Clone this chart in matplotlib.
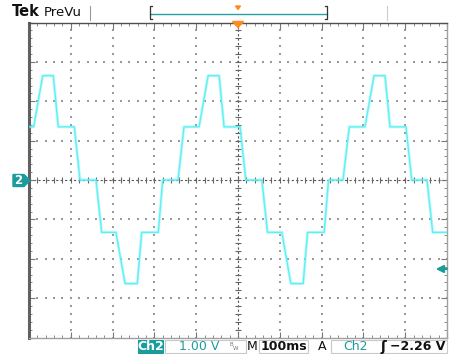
import numpy as np
import matplotlib
matplotlib.use("Agg")
import matplotlib.pyplot as plt
from matplotlib.patches import Rectangle, Polygon
from matplotlib.lines import Line2D

# ---- data: Ch2 trace breakpoints (time in ms relative to trigger, volts) ----
trace_t = [-497.6, -488.8, -467.2, -441.9, -430.0, -391.6, -378.0, -339.7, -326.1,
           -291.9, -270.3, -240.9, -230.4, -190.7, -180.1, -143.5, -129.2, -93.1,
           -71.5, -45.2, -33.3, 5.0, 18.7, 57.1, 70.6, 104.9, 126.4, 155.9, 166.4,
           206.1, 216.6, 251.2, 266.3, 303.8, 325.4, 351.7, 363.6, 401.9, 415.6,
           452.2, 465.8, 497.6]
trace_v = [1.35, 1.35, 2.65, 2.65, 1.35, 1.35, 0.0, 0.0, -1.33,
           -1.33, -2.63, -2.63, -1.33, -1.33, 0.0, 0.0, 1.35, 1.35,
           2.65, 2.65, 1.35, 1.35, 0.0, 0.0, -1.33, -1.33, -2.63, -2.63, -1.33,
           -1.33, 0.0, 0.0, 1.35, 1.35, 2.65, 2.65, 1.35, 1.35, 0.0,
           0.0, -1.33, -1.33]
volts_per_div = 1.00
ms_per_div = 100
trigger_level = -2.26
status_labels = ["Ch2", "1.00 V", "M", "100ms", "A", "Ch2", "\u22122.26 V"]

W, H = 449, 354
TEAL = "#1b9c9c"
TRACE = "#5ef0f5"

fig = plt.figure(figsize=(W / 100, H / 100), dpi=100)
fig.patch.set_facecolor("white")

def fx(x):
    return x / W

def fy(y):
    return 1 - y / H

L, R, T, B = 29, 447, 22.5, 337.5
ax = fig.add_axes([fx(L), fy(B), (R - L) / W, (B - T) / H])
ax.set_xlim(-5 * ms_per_div, 5 * ms_per_div)
ax.set_ylim(-4 * volts_per_div, 4 * volts_per_div)

# graticule dotted grid
minor_x = np.arange(-500, 501, 20)
minor_y = np.arange(-4, 4.01, 0.2)
for gx in range(-400, 401, 100):
    if gx == 0:
        continue
    ax.scatter(np.full(minor_y.size, gx), minor_y, s=0.6, marker="s",
               color="#9a9a9a", linewidths=0, zorder=1)
for gy in range(-3, 4):
    if gy == 0:
        continue
    ax.scatter(minor_x, np.full(minor_x.size, gy), s=0.6, marker="s",
               color="#9a9a9a", linewidths=0, zorder=1)
# center crosshair
ax.axhline(0, color="#555555", lw=0.8, ls=(0, (2, 2)), zorder=1)
ax.axvline(0, color="#555555", lw=0.8, ls=(0, (2, 2)), zorder=1)
ax.plot(minor_x, np.zeros(minor_x.size), ls="none", marker="|", ms=4.5,
        mew=0.8, color="#666666", zorder=1)
ax.plot(np.zeros(minor_y.size), minor_y, ls="none", marker="_", ms=4.5,
        mew=0.8, color="#666666", zorder=1)

# border ticks
ax.set_xticks(np.arange(-500, 501, 100))
ax.set_yticks(np.arange(-4, 5, 1))
ax.set_xticks(minor_x, minor=True)
ax.set_yticks(minor_y, minor=True)
ax.tick_params(which="both", direction="in", top=True, right=True,
               labelbottom=False, labelleft=False, color="#777777")
ax.tick_params(which="major", length=4, width=0.8)
ax.tick_params(which="minor", length=2.5, width=0.6)
for s in ax.spines.values():
    s.set_color("#707070")
    s.set_linewidth(1.0)
ax.spines["left"].set_linewidth(2.2)
ax.spines["left"].set_color("#606060")
ax.spines["top"].set_color("#505050")
ax.spines["bottom"].set_color("#a0a0a0")
ax.spines["right"].set_color("#a0a0a0")

# trace
ax.plot(trace_t, trace_v, color=TRACE, lw=2.2, alpha=0.35, zorder=3,
        solid_joinstyle="round")
ax.plot(trace_t, trace_v, color=TRACE, lw=1.0, zorder=4)

# trigger level arrow (right)
ty = trigger_level
ax.annotate("", xy=(473, ty), xytext=(500, ty),
            arrowprops=dict(arrowstyle="-|>", color=TEAL, lw=1.5,
                            mutation_scale=11, shrinkA=0, shrinkB=0),
            zorder=5, annotation_clip=False)

# ---- top bar ----
fig.text(fx(12), fy(12), "Tek", fontsize=10.5, fontweight="bold",
         family="DejaVu Sans", va="center", ha="left", color="#111111")
fig.text(fx(44), fy(12), "PreVu", fontsize=9.5, family="DejaVu Sans",
         va="center", ha="left", color="#111111")
fig.add_artist(Line2D([fx(90), fx(90)], [fy(6), fy(20)], color="#999999", lw=0.8))
fig.add_artist(Line2D([fx(387), fx(387)], [fy(6), fy(20)], color="#cccccc", lw=0.8))
fig.add_artist(Line2D([fx(150), fx(327)], [fy(13.5), fy(13.5)], color="#2aa0a0", lw=1.0))
for bx, d in [(150, 1), (327, -1)]:
    fig.add_artist(Line2D([fx(bx + 2 * d), fx(bx), fx(bx), fx(bx + 2 * d)],
                          [fy(6), fy(6), fy(19), fy(19)], color="#333333", lw=0.9))
fig.add_artist(Polygon([[fx(235.5), fy(6)], [fx(240.5), fy(6)], [fx(238), fy(9.5)]],
                       closed=True, color="#ff8c1a", transform=fig.transFigure))
fig.add_artist(Polygon([[fx(232.5), fy(21.5)], [fx(243.5), fy(21.5)], [fx(238), fy(27.5)]],
                       closed=True, color="#ff8c1a", transform=fig.transFigure, zorder=10))

# ---- left channel marker ----
fig.add_artist(Polygon([[fx(13), fy(174.5)], [fx(24), fy(174.5)], [fx(30), fy(180.5)],
                        [fx(24), fy(186.5)], [fx(13), fy(186.5)]],
                       closed=True, color=TEAL, transform=fig.transFigure))
fig.text(fx(18.5), fy(180.8), "2", fontsize=8.5, fontweight="bold", color="white",
         ha="center", va="center")

# ---- bottom status bar ----
def box(x0, x1, y0=340, y1=353, fc="white", ec="#c8c8c8"):
    fig.add_artist(Rectangle((fx(x0), fy(y1)), (x1 - x0) / W, (y1 - y0) / H,
                             transform=fig.transFigure, facecolor=fc,
                             edgecolor=ec, lw=0.8))

box(138, 163, fc=TEAL, ec=TEAL)
fig.text(fx(150.5), fy(346.5), status_labels[0], fontsize=9, fontweight="bold",
         color="white", ha="center", va="center")
box(165, 246)
fig.text(fx(199), fy(346.5), status_labels[1], fontsize=9, color=TEAL,
         ha="center", va="center")
fig.text(fx(230), fy(345), "B", fontsize=4, color="#777777", ha="left", va="center")
fig.text(fx(233), fy(348), "W", fontsize=4, color="#777777", ha="left", va="center")
fig.text(fx(252.5), fy(346.5), status_labels[2], fontsize=9, color="#111111",
         ha="center", va="center")
box(259, 308)
fig.text(fx(283.5), fy(346.5), status_labels[3], fontsize=9, fontweight="bold",
         color="#111111", ha="center", va="center")
fig.text(fx(322), fy(346.5), status_labels[4], fontsize=9, color="#111111",
         ha="center", va="center")
box(331, 447)
fig.text(fx(355), fy(346.5), status_labels[5], fontsize=9, color=TEAL,
         ha="center", va="center")
fig.text(fx(383), fy(346.5), "\u0283", fontsize=10, fontweight="bold",
         color="#111111", ha="center", va="center")
fig.text(fx(445), fy(346.5), status_labels[6], fontsize=9, fontweight="bold",
         color="#111111", ha="right", va="center")

fig.savefig("out.png", dpi=100, facecolor="white")
